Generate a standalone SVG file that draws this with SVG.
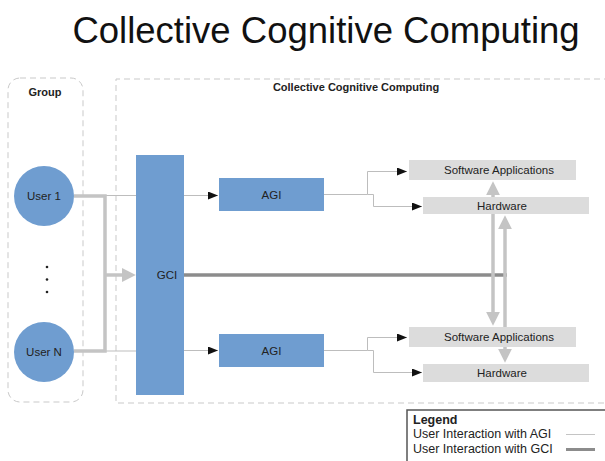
<svg xmlns="http://www.w3.org/2000/svg" width="605" height="461" viewBox="0 0 605 461">
  <style>
    text { font-family: "Liberation Sans", Arial, sans-serif; fill: #222; }
    .lbl { font-size: 11.5px; text-anchor: middle; dominant-baseline: central; }
    .hdr { font-size: 11px; font-weight: bold; text-anchor: middle; }
    .leg { font-size: 12.5px; }
    .frame { fill: none; stroke: #c9c9c9; stroke-width: 1; stroke-dasharray: 6 4; }
    .blue { fill: #6f9dd0; }
    .grey { fill: #dcdcdc; }
    .thin { fill: none; stroke: #bdbdbd; stroke-width: 1; }
    .gci { fill: none; stroke: #8c8c8c; stroke-width: 3.5; }
    .bus { fill: none; stroke: #c4c4c4; stroke-width: 3.5; }
  </style>
  <defs>
    <marker id="tip" viewBox="0 0 10 8" refX="10" refY="4" markerWidth="10" markerHeight="8" markerUnits="userSpaceOnUse" orient="auto">
      <path d="M0,0 L10,4 L0,8 z" fill="#111"/>
    </marker>
    <marker id="fat" viewBox="0 0 10 10" refX="3" refY="5" markerWidth="14" markerHeight="14" markerUnits="userSpaceOnUse" orient="auto-start-reverse">
      <path d="M0,0 L10,5 L0,10 z" fill="#c4c4c4"/>
    </marker>
  </defs>

  <text x="326" y="43" font-size="36.5" text-anchor="middle" style="fill:#111">Collective Cognitive Computing</text>

  <!-- frames -->
  <rect class="frame" x="8" y="78" width="75" height="324" rx="12"/>
  <text class="hdr" x="45" y="96">Group</text>
  <path class="frame" d="M610,79 H116 V403 H610"/>
  <text class="hdr" x="356" y="91">Collective Cognitive Computing</text>

  <!-- connectors -->
  <g id="connectors">
    <!-- user inputs into the GCI and on to the AGIs -->
    <path class="thin" d="M74,195.5 H136"/>
    <path class="thin" d="M184,195.5 H218" marker-end="url(#tip)"/>
    <path class="thin" d="M74,351 H136"/>
    <path class="thin" d="M184,350.5 H218" marker-end="url(#tip)"/>
    <path class="bus" d="M74,196 H105 V351 H74"/>
    <path class="bus" d="M105,275 H126" marker-end="url(#fat)"/>
    <!-- GCI to hardware bus -->
    <path class="gci" d="M184,275 H507"/>
    <!-- AGI fan-out -->
    <path class="thin" d="M324,194.5 H367.5 V171.5 H407" marker-end="url(#tip)"/>
    <path class="thin" d="M367.5,194.5 H373.5 V206.5 H422" marker-end="url(#tip)"/>
    <path class="thin" d="M324,350.5 H367.5 V337.5 H407" marker-end="url(#tip)"/>
    <path class="thin" d="M367.5,350.5 H373.5 V372.5 H422" marker-end="url(#tip)"/>
    <!-- vertical links between the two stacks -->
    <path class="bus" d="M493,191 V316" marker-start="url(#fat)" marker-end="url(#fat)"/>
    <path class="bus" d="M505,225 V353" marker-start="url(#fat)" marker-end="url(#fat)"/>
  </g>

  <!-- nodes -->
  <g id="user1">
    <circle class="blue" cx="44" cy="196" r="30"/>
    <text class="lbl" x="44" y="196">User 1</text>
  </g>
  <g id="ellipsis">
    <circle cx="47" cy="267" r="1.3" fill="#222"/>
    <circle cx="47" cy="279.5" r="1.3" fill="#222"/>
    <circle cx="47" cy="292" r="1.3" fill="#222"/>
  </g>
  <g id="userN">
    <circle class="blue" cx="44" cy="352" r="30"/>
    <text class="lbl" x="44" y="352">User N</text>
  </g>
  <g id="gci">
    <rect class="blue" x="136" y="155" width="48" height="240"/>
    <text class="lbl" x="167" y="275">GCI</text>
  </g>
  <g id="agi-top">
    <rect class="blue" x="219" y="178" width="105" height="33"/>
    <text class="lbl" x="271.5" y="194.5">AGI</text>
  </g>
  <g id="agi-bottom">
    <rect class="blue" x="219" y="334" width="105" height="33"/>
    <text class="lbl" x="271.5" y="350.5">AGI</text>
  </g>
  <g id="software-top">
    <rect class="grey" x="409" y="160" width="167" height="20"/>
    <text class="lbl" x="499" y="170">Software Applications</text>
  </g>
  <g id="hardware-top">
    <rect class="grey" x="423" y="197" width="166" height="17"/>
    <text class="lbl" x="502" y="205.5">Hardware</text>
  </g>
  <g id="software-bottom">
    <rect class="grey" x="409" y="327" width="167" height="20"/>
    <text class="lbl" x="499" y="337">Software Applications</text>
  </g>
  <g id="hardware-bottom">
    <rect class="grey" x="423" y="364" width="166" height="18"/>
    <text class="lbl" x="502" y="373">Hardware</text>
  </g>

  <!-- legend -->
  <g id="legend">
    <rect x="407" y="410" width="210" height="60" fill="#fff" stroke="#555" stroke-width="1.5"/>
    <text class="leg" x="413" y="423.5" font-weight="bold">Legend</text>
    <text class="leg" x="413" y="438">User Interaction with AGI</text>
    <text class="leg" x="413" y="452.5">User Interaction with GCI</text>
    <path d="M566,434.5 H595" stroke="#c4c4c4" stroke-width="1"/>
    <path d="M566,449.5 H595" stroke="#8c8c8c" stroke-width="3"/>
  </g>
</svg>
